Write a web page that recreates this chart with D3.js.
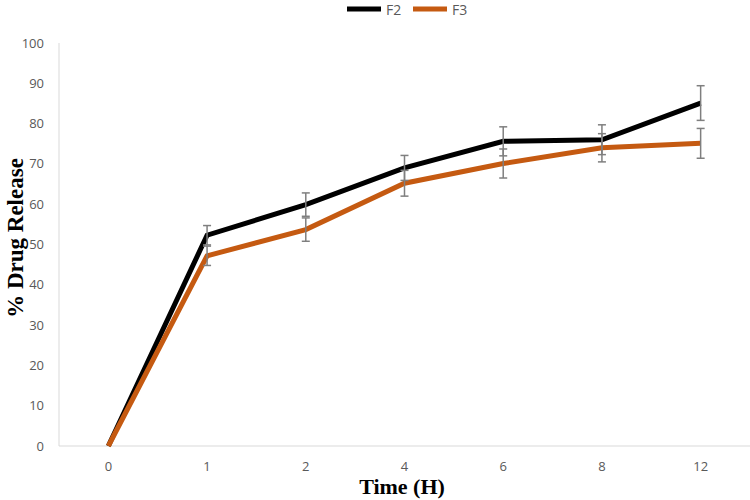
<!DOCTYPE html>
<html><head><meta charset="utf-8">
<script src="https://cdn.jsdelivr.net/npm/d3@7"></script>
<style>body{margin:0;background:#fff}svg{display:block}</style>
</head><body><svg id="c" width="750" height="500"></svg>
<script>
const categories = ["0","1","2","4","6","8","12"];
const f2Values = [0, 52.3, 59.9, 69.0, 75.6, 76.0, 85.1];
const f2Errors = [0, 2.4, 2.9, 3.1, 3.6, 3.7, 4.3];
const f3Values = [0, 47.2, 53.7, 65.2, 70.1, 74.0, 75.1];
const f3Errors = [0, 2.4, 2.9, 3.2, 3.6, 3.5, 3.7];
const yTicks = [0,10,20,30,40,50,60,70,80,90,100];
const seriesNames = ["F2","F3"];
const seriesColors = ["#000000","#c55a11"];

const svg = d3.select("#c");
const m = {left:59, right:750, top:43, bottom:446};
const x = d3.scaleBand().domain(categories).range([m.left, m.right]).padding(0);
const y = d3.scaleLinear().domain([0,100]).range([m.bottom, m.top]);
const cx = c => x(c) + x.bandwidth()/2;

svg.append("line").attr("x1",m.left).attr("x2",m.left).attr("y1",m.top).attr("y2",m.bottom)
  .attr("stroke","#d9d9d9").attr("stroke-width",1);
svg.append("line").attr("x1",m.left).attr("x2",m.right).attr("y1",m.bottom).attr("y2",m.bottom)
  .attr("stroke","#d9d9d9").attr("stroke-width",1);

const font = "'Open Sans', 'Liberation Sans', sans-serif";
svg.append("g").selectAll("text").data(yTicks).join("text")
  .attr("x",44).attr("y",d=>y(d)).attr("dy","0.35em").attr("text-anchor","end")
  .attr("font-family",font).attr("font-size",13).attr("fill","#595959").text(d=>d);
svg.append("g").selectAll("text").data(categories).join("text")
  .attr("x",d=>cx(d)).attr("y",466).attr("dy","0.35em").attr("text-anchor","middle")
  .attr("font-family",font).attr("font-size",13).attr("fill","#595959").text(d=>d);

svg.append("text").attr("transform","translate(23,238) rotate(-90)").attr("text-anchor","middle")
  .attr("font-family","'Liberation Serif', 'Times New Roman', serif").attr("font-weight","bold")
  .attr("font-size",23).attr("fill","#000").text("% Drug Release");
svg.append("text").attr("x",402).attr("y",494).attr("text-anchor","middle")
  .attr("font-family","'Liberation Serif', 'Times New Roman', serif").attr("font-weight","bold")
  .attr("font-size",22).attr("fill","#000").text("Time (H)");

const series = [
  {name:seriesNames[0], vals:f2Values, errs:f2Errors, color:seriesColors[0]},
  {name:seriesNames[1], vals:f3Values, errs:f3Errors, color:seriesColors[1]}
];
const line = d3.line().x((d,i)=>cx(categories[i])).y(d=>y(d));

series.forEach(s=>{
  svg.append("path").datum(s.vals).attr("d",line).attr("fill","none")
    .attr("stroke",s.color).attr("stroke-width",5).attr("stroke-linejoin","miter");
});
series.forEach(s=>{
  const g = svg.append("g").attr("stroke","#7f7f7f").attr("stroke-width",1.5);
  s.vals.forEach((v,i)=>{
    if(!s.errs[i]) return;
    const xx = cx(categories[i]);
    const y1 = y(v + s.errs[i]), y2 = y(v - s.errs[i]);
    g.append("line").attr("x1",xx).attr("x2",xx).attr("y1",y1).attr("y2",y2);
    g.append("line").attr("x1",xx-4).attr("x2",xx+4).attr("y1",y1).attr("y2",y1);
    g.append("line").attr("x1",xx-4).attr("x2",xx+4).attr("y1",y2).attr("y2",y2);
  });
});

const lg = svg.append("g");
series.forEach((s,i)=>{
  const lx = 347 + i*66;
  lg.append("line").attr("x1",lx).attr("x2",lx+34).attr("y1",9).attr("y2",9)
    .attr("stroke",s.color).attr("stroke-width",5);
  lg.append("text").attr("x",lx+39).attr("y",10).attr("dy","0.35em")
    .attr("font-family",font).attr("font-size",14).attr("fill","#595959").text(s.name);
});
</script></body></html>
